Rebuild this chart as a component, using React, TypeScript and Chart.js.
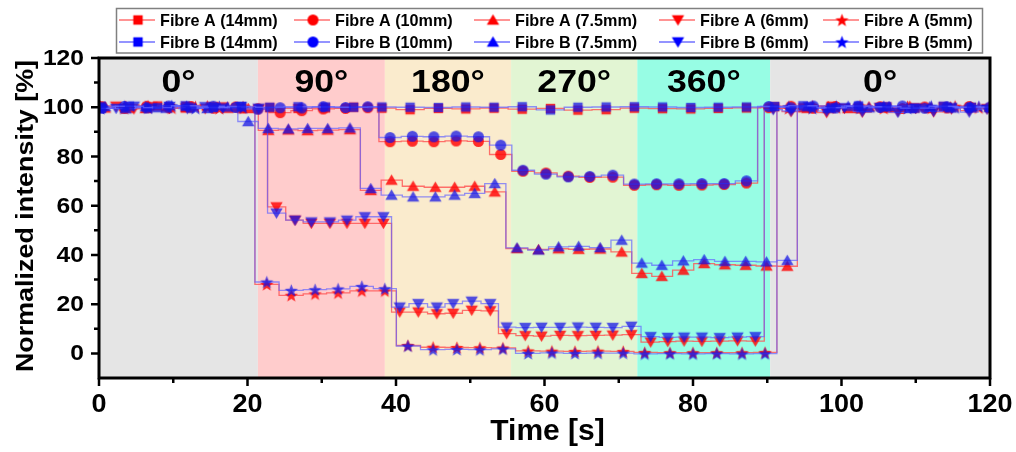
import React, { useEffect, useRef } from 'react';
import { Chart, registerables } from 'chart.js';

Chart.register(...registerables);

// ---------- data ----------
const time14 = [0.3, 4.1, 7.9, 11.6, 15.4, 19.2, 23.0, 26.8, 30.5, 34.3, 38.1, 41.9, 45.7, 49.4, 53.2, 57.0, 60.8, 64.5, 68.3, 72.1, 75.9, 79.7, 83.4, 87.2, 91.0, 94.8, 98.6, 102.3, 106.1, 109.9, 113.7, 117.5];
const fibreA14 = [100.3, 99.6, 100.5, 99.8, 100.2, 99.4, 99.8, 99.5, 99.7, 100.0, 99.6, 99.0, 99.5, 99.3, 99.6, 99.2, 99.5, 98.8, 99.0, 99.6, 99.4, 99.3, 99.5, 99.7, 100.2, 99.8, 100.4, 99.6, 100.1, 99.7, 100.2, 99.9];
const fibreB14 = [99.5, 100.4, 99.8, 100.6, 99.9, 100.3, 100.0, 100.2, 100.1, 100.0, 100.1, 100.0, 99.9, 100.1, 100.0, 100.2, 98.9, 100.0, 100.1, 100.2, 100.1, 99.9, 100.0, 100.1, 100.3, 100.6, 99.8, 100.5, 100.2, 99.6, 100.4, 100.0];

const time10 = [0.4, 3.4, 6.4, 9.4, 12.4, 15.4, 18.4, 21.4, 24.4, 27.3, 30.2, 33.2, 36.2, 39.2, 42.2, 45.1, 48.1, 51.1, 54.1, 57.1, 60.2, 63.2, 66.1, 69.2, 72.1, 75.1, 78.1, 81.2, 84.2, 87.2, 90.2, 93.2, 96.2, 99.2, 102.2, 105.2, 108.2, 111.2, 114.2, 117.2, 120.0];
const fibreA10 = [100.2, 99.5, 100.4, 99.8, 100.3, 99.6, 100.1, 99.4, 97.8, 98.6, 99.3, 99.5, 99.8, 86.0, 86.2, 86.0, 86.3, 86.1, 80.8, 74.0, 73.3, 72.0, 71.5, 71.6, 68.3, 68.5, 68.3, 68.4, 68.6, 69.2, 99.8, 100.4, 99.6, 100.3, 99.7, 100.2, 99.5, 100.1, 99.7, 100.3, 99.8];
const fibreB10 = [99.6, 100.3, 99.7, 100.5, 99.8, 100.4, 99.9, 99.2, 99.8, 99.7, 100.2, 99.9, 100.2, 87.7, 88.2, 88.0, 88.3, 88.0, 84.6, 74.4, 72.8, 71.7, 71.9, 72.4, 68.8, 68.9, 68.9, 69.0, 69.0, 70.1, 100.3, 99.8, 100.5, 99.7, 100.4, 99.9, 100.5, 99.6, 100.2, 99.8, 100.1];

const time75 = [0.8, 3.6, 6.3, 9.1, 11.8, 14.6, 17.3, 20.1, 22.8, 25.5, 28.1, 30.8, 33.8, 36.6, 39.4, 42.3, 45.3, 47.9, 50.6, 53.3, 56.3, 59.2, 61.9, 64.6, 67.5, 70.4, 73.1, 75.8, 78.7, 81.5, 84.3, 87.1, 89.9, 92.7, 95.4, 98.2, 100.9, 103.7, 106.4, 109.2, 111.9, 114.7, 117.4, 120.0];
const fibreA75 = [99.7, 100.4, 99.5, 100.2, 99.8, 100.5, 99.6, 99.5, 90.6, 90.8, 90.5, 90.7, 90.9, 66.2, 70.4, 67.9, 67.5, 67.5, 67.9, 65.6, 42.6, 42.2, 42.5, 42.3, 42.4, 41.2, 32.5, 31.3, 33.8, 36.5, 36.0, 35.8, 35.5, 35.4, 99.6, 100.3, 99.5, 100.2, 99.7, 100.4, 99.6, 100.1, 99.8, 100.2];
const fibreB75 = [100.3, 99.4, 100.2, 99.6, 100.4, 99.5, 100.1, 94.2, 91.4, 91.2, 91.4, 91.4, 91.6, 67.0, 64.3, 63.6, 63.6, 64.3, 65.0, 69.0, 42.9, 42.0, 43.3, 43.5, 43.0, 46.0, 36.7, 35.8, 37.6, 38.1, 37.4, 37.4, 37.2, 37.8, 100.2, 99.6, 100.4, 99.8, 100.3, 99.5, 100.2, 99.7, 100.3, 99.9];

const time6 = [0.0, 2.3, 4.7, 7.1, 9.5, 11.9, 14.3, 16.7, 19.1, 21.5, 23.9, 26.4, 28.6, 31.1, 33.4, 35.8, 38.3, 40.5, 43.0, 45.5, 47.7, 50.2, 52.7, 54.9, 57.4, 59.6, 62.1, 64.5, 66.9, 69.2, 71.7, 74.3, 76.6, 78.8, 81.2, 83.6, 86.0, 88.4, 90.8, 93.2, 95.6, 98.0, 100.4, 102.8, 105.2, 107.6, 110.0, 112.4, 114.8, 117.2, 119.6];
const fibreA6 = [99.8, 100.4, 99.3, 100.2, 99.5, 100.3, 99.4, 100.1, 99.6, 99.2, 59.5, 54.1, 52.8, 52.8, 52.8, 52.8, 52.8, 16.8, 16.8, 16.1, 16.3, 17.5, 17.3, 8.0, 7.2, 7.0, 7.3, 7.2, 7.3, 7.4, 7.6, 4.6, 4.8, 5.0, 4.9, 5.0, 5.1, 5.0, 99.4, 98.2, 99.6, 97.8, 99.5, 98.0, 99.7, 98.3, 99.5, 98.1, 99.3, 98.6, 99.4];
const fibreB6 = [100.2, 99.5, 100.4, 99.6, 100.3, 99.4, 100.2, 99.7, 100.3, 99.6, 57.0, 54.1, 53.4, 53.4, 54.1, 55.5, 55.5, 18.8, 20.2, 18.8, 20.2, 21.2, 20.2, 10.7, 10.5, 10.6, 10.6, 10.7, 10.6, 10.5, 11.0, 6.8, 6.5, 6.6, 6.6, 6.4, 6.6, 6.8, 99.0, 98.5, 100.2, 98.4, 99.8, 98.2, 99.9, 97.9, 99.6, 98.3, 99.8, 98.0, 99.2];

const time5 = [0.2, 3.4, 6.6, 9.8, 13.0, 16.2, 19.4, 22.6, 25.9, 29.1, 32.2, 35.4, 38.5, 41.6, 45.0, 48.2, 51.3, 54.4, 57.8, 61.0, 64.1, 67.2, 70.6, 73.5, 76.9, 80.0, 83.2, 86.6, 89.7, 92.9, 96.1, 99.3, 102.5, 105.7, 108.9, 112.1, 115.3, 118.5];
const fibreA5 = [100.3, 99.6, 100.4, 99.7, 100.2, 99.5, 100.1, 28.0, 23.6, 24.2, 24.6, 25.4, 25.4, 3.2, 2.5, 2.4, 2.3, 2.2, 1.0, 0.9, 0.8, 0.9, 0.8, 0.4, 0.3, 0.3, 0.3, 0.3, 0.4, 99.5, 100.4, 99.8, 100.5, 99.6, 100.3, 99.7, 100.4, 99.8];
const fibreB5 = [99.5, 100.4, 99.8, 100.6, 99.6, 100.3, 99.8, 29.0, 25.6, 25.9, 26.2, 27.2, 26.3, 3.0, 1.5, 1.6, 1.5, 1.8, 0.0, 0.2, 0.0, 0.1, 0.1, -0.2, -0.1, -0.2, -0.1, -0.2, -0.1, 100.2, 99.6, 100.4, 99.7, 100.3, 99.6, 100.4, 99.8, 100.3];

const regionBounds = [0, 21.4, 38.5, 55.5, 72.5, 90.4, 120];
const regionLabels = ['0°', '90°', '180°', '270°', '360°', '0°'];
const xTickValues = [0, 20, 40, 60, 80, 100, 120];
const xMinorValues = [10, 30, 50, 70, 90, 110];
const yTickValues = [0, 20, 40, 60, 80, 100, 120];
const yMinorValues = [10, 30, 50, 70, 90, 110];

// ---------- styles ----------
const regionColors = ['#e5e5e5', '#ffcccc', '#faebcd', '#e2f5d3', '#97fde4', '#e5e5e5'];
const FONT = '"Liberation Sans", Arial, sans-serif';

type Shape = 'square' | 'circle' | 'triangle' | 'down' | 'star';

function makeMarker(shape: Shape, color: string): HTMLCanvasElement {
  const s = 15;
  const c = document.createElement('canvas');
  c.width = s;
  c.height = s;
  const g = c.getContext('2d')!;
  const m = s / 2;
  g.fillStyle = color;
  g.beginPath();
  if (shape === 'square') {
    g.rect(m - 4.7, m - 4.7, 9.4, 9.4);
  } else if (shape === 'circle') {
    g.arc(m, m, 5.5, 0, Math.PI * 2);
  } else if (shape === 'triangle') {
    g.moveTo(m, m - 5.8);
    g.lineTo(m + 6.2, m + 4.8);
    g.lineTo(m - 6.2, m + 4.8);
  } else if (shape === 'down') {
    g.moveTo(m, m + 5.8);
    g.lineTo(m + 6.2, m - 4.8);
    g.lineTo(m - 6.2, m - 4.8);
  } else {
    for (let k = 0; k < 10; k++) {
      const r = k % 2 ? 2.9 : 7;
      const a = -Math.PI / 2 + (k * Math.PI) / 5;
      const px = m + r * Math.cos(a);
      const py = m + 0.7 + r * Math.sin(a);
      if (k === 0) g.moveTo(px, py);
      else g.lineTo(px, py);
    }
  }
  g.closePath();
  g.fill();
  return c;
}

function drawText(
  ctx: CanvasRenderingContext2D,
  s: string,
  x: number,
  y: number,
  font: string,
  align: CanvasTextAlign,
  baseline: CanvasTextBaseline,
  sx = 1,
  rot = 0
) {
  ctx.save();
  ctx.translate(x, y);
  if (rot) ctx.rotate(rot);
  ctx.scale(sx, 1);
  ctx.font = font;
  ctx.textAlign = align;
  ctx.textBaseline = baseline;
  ctx.fillStyle = '#000';
  ctx.fillText(s, 0, 0);
  ctx.restore();
}

export default function App() {
  const ref = useRef<HTMLCanvasElement | null>(null);

  useEffect(() => {
    document.body.style.margin = '0';
    const canvas = ref.current;
    if (!canvas) return;

    const series = [
      { label: 'Fibre A (14mm)', t: time14, v: fibreA14, shape: 'square' as Shape, fam: 'A' },
      { label: 'Fibre A (10mm)', t: time10, v: fibreA10, shape: 'circle' as Shape, fam: 'A' },
      { label: 'Fibre A (7.5mm)', t: time75, v: fibreA75, shape: 'triangle' as Shape, fam: 'A' },
      { label: 'Fibre A (6mm)', t: time6, v: fibreA6, shape: 'down' as Shape, fam: 'A' },
      { label: 'Fibre A (5mm)', t: time5, v: fibreA5, shape: 'star' as Shape, fam: 'A' },
      { label: 'Fibre B (14mm)', t: time14, v: fibreB14, shape: 'square' as Shape, fam: 'B' },
      { label: 'Fibre B (10mm)', t: time10, v: fibreB10, shape: 'circle' as Shape, fam: 'B' },
      { label: 'Fibre B (7.5mm)', t: time75, v: fibreB75, shape: 'triangle' as Shape, fam: 'B' },
      { label: 'Fibre B (6mm)', t: time6, v: fibreB6, shape: 'down' as Shape, fam: 'B' },
      { label: 'Fibre B (5mm)', t: time5, v: fibreB5, shape: 'star' as Shape, fam: 'B' },
    ];

    const markerColor = { A: 'rgba(255,10,10,0.85)', B: 'rgba(20,20,230,0.74)' } as any;
    const lineColor = { A: 'rgba(255,80,80,0.8)', B: 'rgba(100,100,255,0.7)' } as any;
    const legendMarker = { A: '#ff0000', B: '#0000ff' } as any;
    const legendLine = { A: '#ff7070', B: '#7070ff' } as any;

    const datasets = series.map((s) => ({
      label: s.label,
      data: s.t.map((x, i) => ({ x, y: s.v[i] })),
      borderColor: lineColor[s.fam],
      borderWidth: 1.3,
      stepped: 'middle' as const,
      tension: 0,
      pointStyle: makeMarker(s.shape, markerColor[s.fam]),
      pointRadius: 5,
      order: s.fam === 'A' ? 2 : 1,
    }));

    const decor = {
      id: 'decor',
      beforeDatasetsDraw(chart: any) {
        const { ctx, chartArea: a, scales } = chart;
        const xs = scales.x;
        ctx.save();
        for (let i = 0; i < regionLabels.length; i++) {
          const x0 = xs.getPixelForValue(regionBounds[i]);
          const x1 = xs.getPixelForValue(regionBounds[i + 1]);
          ctx.fillStyle = regionColors[i];
          ctx.fillRect(x0, a.top, x1 - x0, a.bottom - a.top);
          drawText(ctx, regionLabels[i], (x0 + x1) / 2, 83, `bold 31px ${FONT}`, 'center', 'middle', 1.15);
        }
        ctx.restore();
      },
      afterDraw(chart: any) {
        const { ctx, chartArea: a, scales } = chart;
        const xs = scales.x;
        const ys = scales.y;
        ctx.save();
        // frame
        ctx.strokeStyle = '#000';
        ctx.lineWidth = 3;
        ctx.strokeRect(a.left, a.top, a.right - a.left, a.bottom - a.top);
        // ticks
        ctx.lineWidth = 2.5;
        ctx.beginPath();
        xTickValues.forEach((v) => {
          const px = xs.getPixelForValue(v);
          ctx.moveTo(px, a.bottom);
          ctx.lineTo(px, a.bottom + 8);
        });
        xMinorValues.forEach((v) => {
          const px = xs.getPixelForValue(v);
          ctx.moveTo(px, a.bottom);
          ctx.lineTo(px, a.bottom + 5);
        });
        yTickValues.forEach((v) => {
          const py = ys.getPixelForValue(v);
          ctx.moveTo(a.left, py);
          ctx.lineTo(a.left - 8, py);
        });
        yMinorValues.forEach((v) => {
          const py = ys.getPixelForValue(v);
          ctx.moveTo(a.left, py);
          ctx.lineTo(a.left - 5, py);
        });
        ctx.stroke();
        // tick labels
        xTickValues.forEach((v) => {
          drawText(ctx, String(v), xs.getPixelForValue(v), 405, `bold 25px ${FONT}`, 'center', 'middle', 1.08);
        });
        yTickValues.forEach((v) => {
          drawText(ctx, String(v), 84, ys.getPixelForValue(v) + 1, `bold 22px ${FONT}`, 'right', 'middle', 1.12);
        });
        // titles
        drawText(ctx, 'Time [s]', (a.left + a.right) / 2 + 3, 440, `bold 30px ${FONT}`, 'center', 'alphabetic', 1.0);
        drawText(ctx, 'Normalized intensity [%]', 26, (a.top + a.bottom) / 2 - 2, `bold 24px ${FONT}`, 'center', 'middle', 1.12, -Math.PI / 2);
        // legend
        ctx.fillStyle = '#fff';
        ctx.fillRect(116.5, 8.5, 866, 44.5);
        ctx.strokeStyle = '#808080';
        ctx.lineWidth = 1.5;
        ctx.strokeRect(116.5, 8.5, 866, 44.5);
        const colX = [119, 294, 474, 659, 823];
        const rowY = [20, 42];
        series.forEach((s, i) => {
          const cx = colX[i % 5];
          const cy = rowY[s.fam === 'A' ? 0 : 1];
          ctx.strokeStyle = legendLine[s.fam];
          ctx.lineWidth = 1.3;
          ctx.beginPath();
          ctx.moveTo(cx, cy);
          ctx.lineTo(cx + 36, cy);
          ctx.stroke();
          const mk = makeMarker(s.shape, legendMarker[s.fam]);
          ctx.drawImage(mk, cx + 19 - mk.width / 2, cy - mk.height / 2);
          drawText(ctx, s.label, cx + 41, cy + 1, `bold 16.5px ${FONT}`, 'left', 'middle', 0.98);
        });
        ctx.restore();
      },
    };

    const chart = new Chart(canvas, {
      type: 'line',
      data: { datasets: datasets as any },
      options: {
        responsive: false,
        animation: false,
        devicePixelRatio: 1,
        events: [],
        layout: { padding: { top: 58, right: 26, left: 0, bottom: 0 } },
        plugins: { legend: { display: false }, tooltip: { enabled: false } },
        scales: {
          x: {
            type: 'linear',
            min: 0,
            max: 120,
            grid: { display: false },
            border: { display: false },
            ticks: { display: false },
            afterFit: (s: any) => {
              s.height = 74;
            },
          },
          y: {
            type: 'linear',
            min: -10,
            max: 120,
            grid: { display: false },
            border: { display: false },
            ticks: { display: false },
            afterFit: (s: any) => {
              s.width = 99;
            },
          },
        },
      } as any,
      plugins: [decor],
    });

    return () => chart.destroy();
  }, []);

  return <canvas ref={ref} width={1016} height={452} style={{ display: 'block' }} />;
}
